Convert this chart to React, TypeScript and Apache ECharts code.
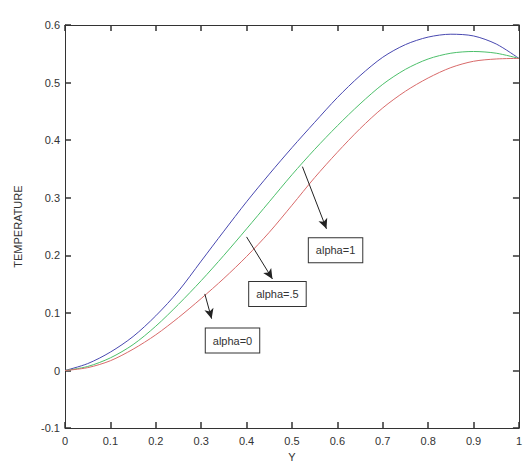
import React, { useEffect, useRef } from "react";
import * as echarts from "echarts";

const xValues = [0, 0.05, 0.1, 0.15, 0.2, 0.25, 0.3, 0.35, 0.4, 0.45, 0.5, 0.55, 0.6, 0.65, 0.7, 0.75, 0.8, 0.85, 0.9, 0.95, 1.0];
const alpha1 = [0, 0.012, 0.032, 0.059, 0.095, 0.138, 0.19, 0.242, 0.293, 0.341, 0.387, 0.431, 0.474, 0.512, 0.544, 0.566, 0.579, 0.584, 0.581, 0.567, 0.542];
const alpha05 = [0, 0.007, 0.022, 0.045, 0.077, 0.115, 0.156, 0.2, 0.246, 0.293, 0.34, 0.384, 0.425, 0.463, 0.497, 0.523, 0.541, 0.551, 0.554, 0.551, 0.542];
const alpha0 = [0, 0.005, 0.017, 0.037, 0.062, 0.092, 0.125, 0.16, 0.198, 0.24, 0.287, 0.335, 0.379, 0.42, 0.456, 0.485, 0.508, 0.526, 0.537, 0.541, 0.542];

const annotationLabels = ["alpha=1", "alpha=.5", "alpha=0"];
const arrowTails = [[0.523, 0.354], [0.4, 0.232], [0.308, 0.133]];
const arrowTips = [[0.576, 0.246], [0.457, 0.159], [0.323, 0.09]];
const boxCenters = [[0.596, 0.209], [0.468, 0.133], [0.369, 0.052]];

const FONT = "Liberation Sans";

function pairs(ys: number[]) {
  return xValues.map((x, i) => [x, ys[i]]);
}

const fmt = (v: number) => String(Math.round(v * 10) / 10);

function makeAxis(position: string, min: number, max: number, showLabels: boolean, margin: number) {
  return {
    type: "value",
    position,
    min,
    max,
    interval: 0.1,
    splitLine: { show: false },
    axisLine: { show: true, onZero: false, lineStyle: { color: "#333", width: 1 } },
    axisTick: { show: true, inside: true, length: 6, lineStyle: { color: "#333", width: 1.5 } },
    axisLabel: {
      show: showLabels,
      margin,
      formatter: fmt,
      fontFamily: FONT,
      fontSize: 11,
      color: "#333",
    },
  };
}

export default function App() {
  const ref = useRef<HTMLDivElement>(null);
  useEffect(() => {
    if (!ref.current) return;
    const chart = echarts.init(ref.current, undefined, { renderer: "svg" });
    chart.setOption({
      animation: false,
      backgroundColor: "#ffffff",
      grid: { left: 65, right: 5, top: 25, bottom: 37, containLabel: false },
      xAxis: [
        {
          ...makeAxis("bottom", 0, 1, true, 7),
          name: "Y",
          nameLocation: "middle",
          nameGap: 22,
          nameTextStyle: { fontFamily: FONT, fontSize: 11, color: "#333" },
        },
        makeAxis("top", 0, 1, false, 7),
      ],
      yAxis: [
        {
          ...makeAxis("left", -0.1, 0.6, true, 5),
          name: "TEMPERATURE",
          nameLocation: "middle",
          nameGap: 42,
          nameTextStyle: { fontFamily: FONT, fontSize: 11, color: "#333" },
        },
        makeAxis("right", -0.1, 0.6, false, 5),
      ],
      series: [
        {
          name: "alpha=1",
          type: "line",
          data: pairs(alpha1),
          smooth: 0.3,
          showSymbol: false,
          lineStyle: { color: "#4848b0", width: 1 },
          markLine: {
            silent: true,
            symbol: ["none", "arrow"],
            symbolSize: [7, 10],
            label: { show: false },
            lineStyle: { color: "#222", width: 1, type: "solid" },
            data: arrowTails.map((t, i) => [
              { coord: t },
              { coord: arrowTips[i] },
            ]),
          },
          markPoint: {
            silent: true,
            symbol: "rect",
            symbolSize: 0,
            data: boxCenters.map((c, i) => ({
              coord: c,
              label: {
                show: true,
                position: "inside",
                formatter: annotationLabels[i],
                fontFamily: FONT,
                fontSize: 11,
                color: "#333",
                backgroundColor: "#ffffff",
                borderColor: "#333",
                borderWidth: 1,
                padding: [7, 7, 6, 7],
              },
            })),
          },
        },
        {
          name: "alpha=.5",
          type: "line",
          data: pairs(alpha05),
          smooth: 0.3,
          showSymbol: false,
          lineStyle: { color: "#4cbf6a", width: 1 },
        },
        {
          name: "alpha=0",
          type: "line",
          data: pairs(alpha0),
          smooth: 0.3,
          showSymbol: false,
          lineStyle: { color: "#d86a6a", width: 1 },
        },
      ],
    });
    return () => chart.dispose();
  }, []);
  return (
    <div
      ref={ref}
      style={{ position: "fixed", left: 0, top: 0, width: 525, height: 467, background: "#fff" }}
    />
  );
}
